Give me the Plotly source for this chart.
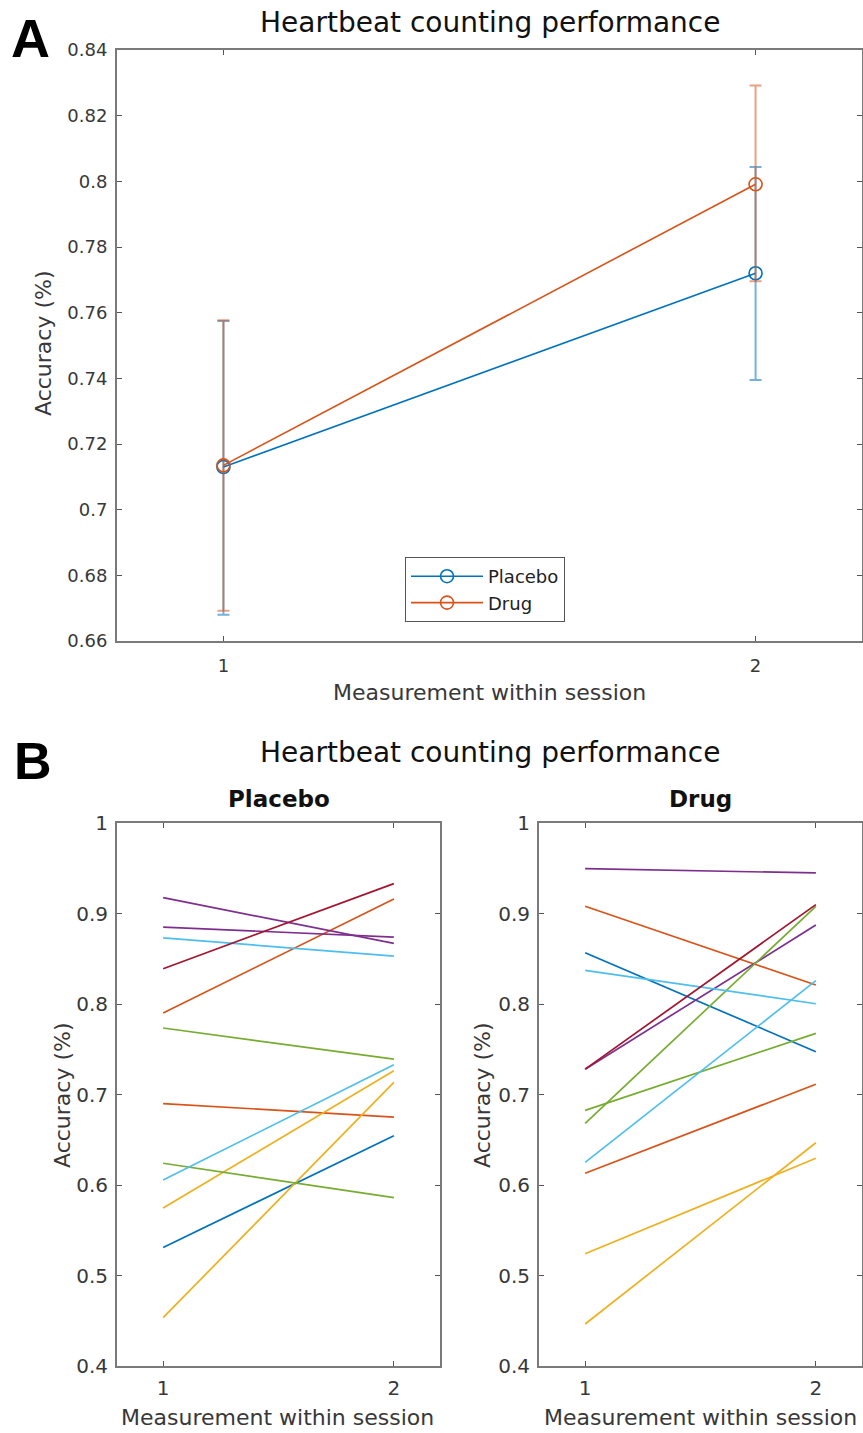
import plotly.graph_objects as go

# ---------------- data ----------------
sessions = [1, 2]
tick_x = [1, 2]

placebo_mean = [0.713, 0.772]
placebo_low = [0.668, 0.7395]
placebo_high = [0.7575, 0.8044]
drug_mean = [0.7135, 0.7991]
drug_low = [0.6692, 0.7696]
drug_high = [0.7577, 0.8292]

a_yticks = [0.66, 0.68, 0.70, 0.72, 0.74, 0.76, 0.78, 0.80, 0.82, 0.84]
a_yticklabels = ["0.66", "0.68", "0.7", "0.72", "0.74", "0.76", "0.78", "0.8", "0.82", "0.84"]

placebo_m1 = [0.531, 0.690, 0.790, 0.5746, 0.4534, 0.9175, 0.885, 0.7735, 0.624, 0.6055, 0.873, 0.839]
placebo_m2 = [0.6545, 0.675, 0.916, 0.7263, 0.7135, 0.867, 0.874, 0.739, 0.586, 0.733, 0.853, 0.933]
drug_m1 = [0.8567, 0.908, 0.613, 0.524, 0.4464, 0.9495, 0.728, 0.668, 0.6825, 0.8372, 0.625, 0.728]
drug_m2 = [0.7473, 0.821, 0.7113, 0.6295, 0.6467, 0.9448, 0.8873, 0.908, 0.7676, 0.8003, 0.8258, 0.9098]

b_yticks = [0.4, 0.5, 0.6, 0.7, 0.8, 0.9, 1.0]
b_yticklabels = ["0.4", "0.5", "0.6", "0.7", "0.8", "0.9", "1"]

# ---------------- styles ----------------
BLUE = "#0072BD"
ORANGE = "#D95319"
YELLOW = "#EDB120"
PURPLE = "#7E2F8E"
GREEN = "#77AC30"
CYAN = "#4DBEEE"
DARKRED = "#A2142F"
subject_colors = [BLUE, ORANGE, ORANGE, YELLOW, YELLOW, PURPLE, PURPLE,
                  GREEN, GREEN, CYAN, CYAN, DARKRED]

FONT = "DejaVu Sans"
TXT = "#383838"
AXC = "#7a7a7a"
W, H = 863, 1433


def px_x(p):
    return p / W


def px_y(p):
    return 1 - p / H


fig = go.Figure()

for name, mean, lo, hi, col, ecol in [
    ("Placebo", placebo_mean, placebo_low, placebo_high, BLUE, "rgba(0,114,189,0.55)"),
    ("Drug", drug_mean, drug_low, drug_high, ORANGE, "rgba(217,83,25,0.55)"),
]:
    fig.add_trace(go.Scatter(
        x=sessions, y=mean, name=name, mode="lines+markers",
        line=dict(color=col, width=1.6),
        marker=dict(symbol="circle-open", size=13, color=col, line=dict(width=1.6, color=col)),
        error_y=dict(type="data", symmetric=False,
                     array=[h - m for h, m in zip(hi, mean)],
                     arrayminus=[m - l for m, l in zip(mean, lo)],
                     color=ecol, thickness=2, width=6),
        xaxis="x", yaxis="y", showlegend=True,
    ))

for i in range(len(placebo_m1)):
    fig.add_trace(go.Scatter(
        x=sessions, y=[placebo_m1[i], placebo_m2[i]], mode="lines",
        line=dict(color=subject_colors[i], width=1.7),
        xaxis="x2", yaxis="y2", showlegend=False, hoverinfo="y",
    ))
for i in range(len(drug_m1)):
    fig.add_trace(go.Scatter(
        x=sessions, y=[drug_m1[i], drug_m2[i]], mode="lines",
        line=dict(color=subject_colors[i], width=1.7),
        xaxis="x3", yaxis="y3", showlegend=False, hoverinfo="y",
    ))

axis_common = dict(
    showline=True, linecolor=AXC, linewidth=2, mirror="allticks",
    ticks="inside", ticklen=5, tickwidth=1, tickcolor="#555555",
    showgrid=False, zeroline=False, automargin=False,
)
font_a = dict(family=FONT, size=18, color=TXT)
font_b = dict(family=FONT, size=20, color=TXT)

a_x = [px_x(117), px_x(862)]
a_y = [px_y(641), px_y(50)]
bl_x = [px_x(117), px_x(440)]
br_x = [px_x(539), px_x(862)]
b_y = [px_y(1366), px_y(823)]

fig.update_layout(
    width=W, height=H,
    margin=dict(l=0, r=0, t=0, b=0, pad=0, autoexpand=False),
    paper_bgcolor="white", plot_bgcolor="white",
    font=dict(family=FONT, color=TXT),
    xaxis=dict(domain=a_x, anchor="y", range=[0.8, 2.2], tickvals=tick_x,
               ticktext=[str(v) for v in tick_x], tickfont=font_a,
               ticklabelstandoff=7, **axis_common),
    yaxis=dict(domain=a_y, anchor="x", range=[0.66, 0.84], tickvals=a_yticks,
               ticktext=a_yticklabels, tickfont=font_a,
               ticklabelstandoff=4, **axis_common),
    xaxis2=dict(domain=bl_x, anchor="y2", range=[0.8, 2.2], tickvals=tick_x,
                ticktext=[str(v) for v in tick_x], tickfont=font_b,
                ticklabelstandoff=3, **axis_common),
    yaxis2=dict(domain=b_y, anchor="x2", range=[0.4, 1.0], tickvals=b_yticks,
                ticktext=b_yticklabels, tickfont=font_b,
                ticklabelstandoff=3, **axis_common),
    xaxis3=dict(domain=br_x, anchor="y3", range=[0.8, 2.2], tickvals=tick_x,
                ticktext=[str(v) for v in tick_x], tickfont=font_b,
                ticklabelstandoff=3, **axis_common),
    yaxis3=dict(domain=b_y, anchor="x3", range=[0.4, 1.0], tickvals=b_yticks,
                ticktext=b_yticklabels, tickfont=font_b,
                ticklabelstandoff=3, **axis_common),
    legend=dict(x=px_x(405), y=px_y(557), xanchor="left", yanchor="top",
                bordercolor="#555555", borderwidth=1, bgcolor="white",
                font=dict(family=FONT, size=18, color="#222222"),
                itemwidth=72, tracegroupgap=0),
    showlegend=True,
)

ann = []


def add_text(text, x, y, size, bold=False, angle=0, color=TXT, family=FONT):
    ann.append(dict(text=f"<b>{text}</b>" if bold else text, x=px_x(x), y=px_y(y),
                    xref="paper", yref="paper", xanchor="center", yanchor="middle",
                    showarrow=False, textangle=angle,
                    font=dict(family=family, size=size, color=color)))


add_text("Heartbeat counting performance", 490, 22, 28, color="#111111")
add_text("Heartbeat counting performance", 490, 752, 28, color="#111111")
add_text("Measurement within session", 489, 692, 22)
add_text("Measurement within session", 277, 1417, 22)
add_text("Measurement within session", 700, 1417, 22)
add_text("Accuracy (%)", 43, 343, 22, angle=-90)
add_text("Accuracy (%)", 62, 1095, 22, angle=-90)
add_text("Accuracy (%)", 482, 1095, 22, angle=-90)
add_text("Placebo", 279, 799, 23, bold=True, color="#111111")
add_text("Drug", 700, 799, 23, bold=True, color="#111111")
add_text("A", 30, 38, 54, bold=True, color="black", family="Liberation Sans")
add_text("B", 33, 761, 52, bold=True, color="black", family="Liberation Sans")

fig.update_layout(annotations=ann)

fig.write_html("out.html", config={"displayModeBar": False},
               post_script="document.body.style.margin='0';")
